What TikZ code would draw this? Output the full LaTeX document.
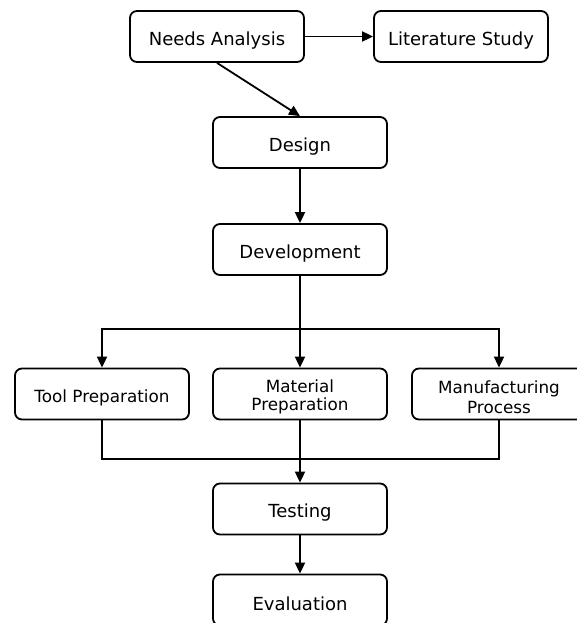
\documentclass[tikz,border=0pt]{standalone}
\usepackage{fontspec}
\setmainfont{DejaVu Sans}
\usetikzlibrary{arrows.meta}
\newcommand\dropbox[2]{\raisebox{-#1}[\height][\depth]{#2}}
\newcommand\twolines[3]{\fontsize{16.8}{#1}\selectfont\begin{tabular}{@{}c@{}}#2\\#3\end{tabular}}
\begin{document}
\begin{tikzpicture}[x=1pt,y=-1pt,
  box/.style={draw,line width=1.8pt,rounded corners=7pt,minimum width=174pt,minimum height=51pt,inner sep=0pt,align=center,font=\fontsize{18}{21}\selectfont},
  sbox/.style={box,font=\fontsize{16.8}{17.5}\selectfont},
  conn/.style={line width=1.8pt},
  arr/.style={conn,-{Triangle[length=11pt,width=10pt]}}]
\useasboundingbox (0,0) rectangle (577,623);
\node[box] (na) at (217,36.5) {\dropbox{4pt}{Needs Analysis}};
\node[box] (ls) at (461,36.5) {\dropbox{4pt}{Literature Study}};
\node[box] (de) at (300,142.5) {\dropbox{4pt}{Design}};
\node[box] (dev) at (300,249.5) {\dropbox{4pt}{Development}};
\node[sbox] (tp) at (102,394) {\dropbox{3.5pt}{Tool Preparation}};
\node[sbox] (mp) at (300,394) {\dropbox{3.5pt}{\twolines{18}{Material}{Preparation}}};
\node[sbox] (mfp) at (499,394) {\dropbox{5.5pt}{\twolines{19.5}{Manufacturing}{Process}}};
\node[box] (te) at (300,509) {\dropbox{4pt}{Testing}};
\node[box] (ev) at (300,600) {\dropbox{4pt}{Evaluation}};
\coordinate (split) at (300,329);
\coordinate (join) at (300,459);
\draw[arr] (na) -- (ls);
\draw[arr] (na.south) -- (de.north);
\draw[arr] (de) -- (dev);
\draw[conn] (dev.south) -- (split);
\draw[arr] (split) -- (mp.north);
\draw[arr] (split) -| (tp.north);
\draw[arr] (split) -| (mfp.north);
\draw[conn] (tp.south) |- (join);
\draw[conn] (mfp.south) |- (join);
\draw[arr] (mp.south) -- (te.north);
\draw[arr] (te) -- (ev);
\end{tikzpicture}
\end{document}
